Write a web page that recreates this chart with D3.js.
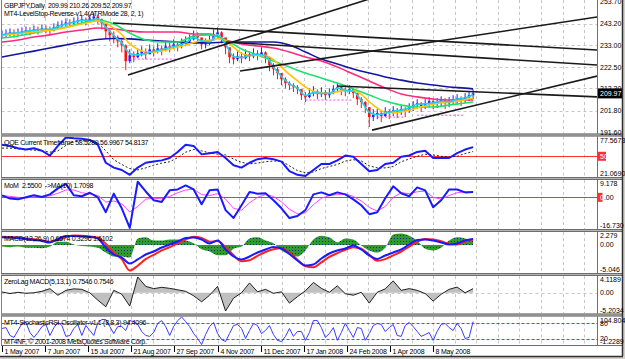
<!DOCTYPE html>
<html>
<head>
<meta charset="utf-8">
<script src="https://cdn.jsdelivr.net/npm/d3@7"></script>
<style>
  html, body { margin: 0; padding: 0; background: #fff; }
  svg { display: block; font-family: "Liberation Sans", Arial, sans-serif; }
  text { white-space: pre; }
</style>
</head>
<body>
<svg id="chart" width="625" height="359"></svg>
<script>
// ---- data (May 2007 - May 2008) ----
const dateLabels = ['1 May 2007', '7 Jun 2007', '15 Jul 2007', '21 Aug 2007', '27 Sep 2007', '4 Nov 2007',
  '11 Dec 2007', '17 Jan 2008', '24 Feb 2008', '1 Apr 2008', '8 May 2008'];
const DAYS_PER_LABEL = 27;
const SAMPLE = 2.5; // trading days per price sample
const STEP = 5;     // trading days per indicator sample

const closes = [238.0, 238.5, 239.0, 238.5, 239.0, 239.5, 239.9, 239.5, 240.4, 239.9,
  240.9, 240.4, 239.9, 241.4, 242.3, 242.8, 243.7, 243.3, 244.2, 244.7,
  245.2, 244.2, 245.6, 246.6, 245.2, 243.3, 239.5, 237.6, 236.6, 234.7,
  232.8, 225.3, 228.1, 227.2, 229.0, 230.0, 228.6, 230.9, 230.0, 231.4,
  230.5, 232.4, 231.9, 233.3, 232.4, 233.8, 234.7, 235.7, 237.6, 236.6,
  233.3, 233.8, 235.2, 238.0, 239.0, 236.6, 231.9, 227.2, 226.2, 227.6,
  226.7, 228.6, 227.6, 229.0, 228.1, 229.5, 227.2, 223.4, 221.5, 219.6,
  216.7, 214.8, 213.9, 212.9, 212.0, 209.1, 208.2, 210.1, 211.0, 209.6,
  210.6, 209.1, 210.1, 212.0, 212.9, 211.5, 211.0, 212.0, 210.1, 207.2,
  205.8, 203.4, 198.7, 199.7, 200.6, 199.2, 201.6, 200.6, 202.0, 201.1,
  202.5, 201.6, 203.4, 204.4, 205.3, 203.9, 205.3, 206.3, 205.3, 205.8,
  206.8, 205.3, 206.3, 207.2, 207.7, 206.8, 208.2, 209.1, 209.97];
const highs = [239.9, 240.4, 240.9, 240.4, 240.9, 241.4, 241.8, 241.4, 242.3, 241.8,
  242.8, 242.3, 241.8, 243.3, 244.2, 244.7, 245.6, 245.2, 246.1, 246.6,
  247.1, 246.1, 247.5, 248.5, 247.5, 245.6, 242.8, 240.4, 239.5, 237.6,
  235.7, 233.3, 230.9, 230.0, 231.4, 232.4, 231.4, 233.3, 232.4, 233.8,
  232.8, 234.7, 234.2, 235.7, 234.7, 236.1, 237.1, 238.0, 239.9, 239.0,
  236.1, 236.1, 237.6, 240.4, 241.4, 239.5, 236.1, 230.9, 229.0, 230.0,
  229.5, 230.9, 230.0, 231.4, 230.5, 231.9, 230.0, 226.7, 224.3, 222.4,
  219.6, 217.6, 215.7, 214.8, 213.9, 211.5, 210.6, 212.4, 213.4, 211.9,
  212.9, 211.5, 212.4, 213.9, 214.8, 213.4, 212.9, 213.9, 212.4, 210.1,
  208.2, 206.3, 203.4, 202.5, 202.5, 201.6, 203.4, 202.5, 203.9, 203.0,
  204.4, 203.4, 205.3, 206.3, 207.2, 205.8, 207.2, 208.2, 207.2, 207.7,
  208.6, 207.7, 208.2, 209.1, 209.6, 208.6, 210.1, 211.0, 211.9];
const lows = [236.1, 236.6, 237.1, 236.6, 237.1, 237.6, 238.0, 237.6, 238.5, 238.0,
  239.0, 238.5, 238.0, 239.5, 240.4, 240.9, 241.8, 241.4, 242.3, 242.8,
  243.3, 242.3, 243.7, 244.7, 242.8, 240.4, 236.1, 234.7, 233.8, 231.9,
  229.5, 221.0, 224.3, 224.8, 226.7, 227.6, 226.2, 228.6, 227.6, 229.0,
  228.1, 230.0, 229.5, 231.0, 230.0, 231.4, 232.4, 233.3, 235.2, 234.2,
  230.9, 231.4, 232.8, 235.7, 236.6, 233.8, 228.6, 224.3, 223.8, 225.3,
  224.3, 226.2, 225.3, 226.7, 225.7, 227.2, 224.3, 220.5, 218.6, 216.7,
  213.9, 212.4, 211.5, 210.6, 209.6, 206.8, 205.8, 207.7, 208.6, 207.2,
  208.2, 206.8, 207.7, 209.6, 210.6, 209.1, 208.6, 209.6, 207.7, 204.4,
  203.0, 200.6, 194.0, 196.8, 197.7, 196.3, 198.7, 197.7, 199.2, 198.2,
  199.7, 198.7, 200.6, 201.6, 202.5, 201.1, 202.5, 203.4, 202.5, 203.0,
  203.9, 202.5, 203.4, 204.4, 204.9, 203.9, 205.3, 206.3, 207.2];

// slow moving averages, one value every 10 trading days (last one at day 295)
const maDays = [0, 10, 20, 30, 40, 50, 60, 70, 80, 90, 100, 110, 120, 130, 140, 150, 160, 170, 180, 190,
  200, 210, 220, 230, 240, 250, 260, 270, 280, 290, 295];
const maNavy = [227.3, 228.7, 230.1, 231.6, 233.0, 234.4, 235.6, 236.1, 235.9, 235.4, 234.9, 234.4, 234.0, 234.0,
  234.4, 234.4, 234.4, 234.4, 233.0, 229.7, 226.3, 224.0, 221.6, 219.7, 217.8, 216.3, 214.9, 214.0, 213.0, 212.5, 212.1];
const maPink = [234.4, 235.4, 236.8, 237.8, 239.2, 240.1, 241.1, 240.6, 239.7, 239.2, 239.2, 239.2, 238.2, 238.2,
  235.4, 233.5, 232.5, 231.6, 229.7, 227.3, 225.4, 222.5, 219.2, 215.9, 212.5, 209.7, 208.3, 207.3, 206.8, 206.8, 206.8];
const maGreen = [236.3, 237.3, 238.7, 240.1, 241.6, 243.5, 244.9, 243.0, 238.7, 235.4, 234.4, 234.4, 237.3, 237.8,
  235.4, 231.1, 228.2, 225.4, 222.5, 219.7, 217.3, 214.9, 212.1, 209.2, 206.3, 204.4, 203.5, 203.5, 204.4, 205.4, 205.9];
// fast moving averages, one value every 5 trading days
const maYellow = [237.5, 238.0, 238.4, 238.8, 239.2, 239.6, 240.0, 240.5, 241.3, 242.2,
  243.0, 243.8, 244.5, 243.5, 241.0, 238.0, 233.5, 231.0, 229.8, 229.6,
  230.2, 231.0, 232.0, 233.0, 234.2, 235.0, 235.2, 236.0, 235.0, 232.0,
  229.0, 228.0, 228.0, 228.0, 226.0, 222.5, 219.0, 216.0, 213.0, 211.0,
  210.3, 210.0, 210.8, 211.3, 211.2, 209.5, 206.0, 203.0, 201.0, 200.7,
  201.2, 202.0, 203.0, 204.0, 204.8, 205.5, 205.8, 206.3, 207.0, 207.8];
const maCyan = [237.8, 238.6, 238.8, 239.5, 240.0, 240.5, 240.5, 241.8, 243.0, 243.8,
  244.7, 244.8, 245.5, 241.5, 237.5, 234.0, 229.0, 228.3, 229.0, 230.0,
  230.8, 231.8, 232.8, 234.0, 236.5, 235.0, 234.5, 238.0, 233.5, 227.5,
  227.0, 228.0, 228.5, 228.0, 222.5, 218.0, 214.5, 212.5, 209.0, 210.2,
  210.0, 210.0, 212.5, 211.5, 211.0, 206.5, 201.0, 199.8, 200.5, 201.5,
  202.0, 203.0, 204.8, 205.0, 205.5, 206.2, 206.0, 207.3, 207.8, 209.3];
// LevelStop-Reverse stop levels (sample index ranges)
const stopFrom = [32, 76, 94, 104];
const stopTo = [44, 88, 101, 116];
const stopLevel = [226.3, 206.8, 198.7, 199.6];
// hand drawn trend lines: anchor (day, price) pairs, drawn as rays to the right
const trendDay1 = [69.5, 78.9, 149.0, 140.3, 209.8, 231.7];
const trendPrice1 = [243.5, 218.7, 220.6, 234.4, 213.5, 192.5];
const trendDay2 = [372.6, 224.2, 372.6, 372.6, 372.6, 372.6];
const trendPrice2 = [230.6, 253.5, 246.3, 223.5, 208.3, 218.2];

// indicators, one value every 5 trading days
const qqeFast = [67.0, 65.2, 61.7, 59.9, 61.7, 58.1, 51.1, 65.2, 77.5, 76.5, 75.8, 74.0, 67.0, 40.5, 33.4, 29.9, 22.8, 33.4, 40.5, 42.2,
  44.0, 47.5, 56.4, 67.0, 65.2, 52.8, 54.6, 56.4, 47.5, 36.9, 33.4, 40.5, 45.8, 47.5, 45.8, 42.2, 28.1, 22.8, 21.1, 29.9,
  38.7, 38.7, 44.0, 51.1, 49.3, 38.7, 28.1, 29.9, 38.7, 40.5, 49.3, 51.1, 56.4, 58.1, 47.5, 47.5, 47.5, 54.6, 59.9, 63.4];
const qqeSlow = [62, 62, 61, 60, 59, 58, 56, 58, 66, 72, 73, 72, 70, 58, 45, 38, 32, 30, 33, 37,
  40, 42, 48, 56, 60, 58, 55, 53, 52, 46, 41, 39, 40, 42, 43, 43, 36, 29, 26, 27,
  32, 35, 38, 43, 45, 43, 36, 33, 33, 35, 42, 46, 50, 53, 52, 50, 49, 50, 54, 57];
const mom = [1.1, -0.7, -1.1, 0.0, 1.1, 0.2, 1.6, 4.9, 7.4, 1.1, 0.6, 2.5, 0.0, -8.1, 2.0, -6.0, -16.7, 8.5, 3.2, -1.6,
  -2.5, 3.8, 4.3, 6.5, 4.3, -3.8, 3.8, 4.3, -7.0, -11.3, -4.3, 2.9, 2.0, 2.2, -1.6, -6.0, -11.3, -10.2, -7.0, 1.6,
  2.7, 1.1, 2.7, 1.6, -1.1, -4.3, -9.2, -8.1, -0.5, 6.0, 2.2, 0.6, 5.4, 3.8, -5.4, -1.6, 4.3, 4.3, 2.7, 2.9];
const momMa = [1.0, 0.5, 0.0, -0.3, 0.2, 0.5, 0.8, 2.2, 4.0, 4.0, 2.5, 1.8, 1.0, -2.5, -2.0, -3.5, -8.0, -5.0, -1.0, -0.5,
  -0.8, 0.5, 2.5, 4.0, 4.5, 1.5, 1.0, 2.0, -1.0, -6.0, -7.0, -3.0, 0.0, 1.5, 0.5, -2.5, -6.5, -9.0, -8.5, -4.0,
  -0.5, 1.0, 1.5, 1.8, 0.5, -2.0, -5.5, -7.5, -5.0, 0.0, 2.5, 2.0, 3.0, 3.5, 0.0, -1.0, 1.0, 2.5, 3.0, 2.9];
const macdMain = [1.42, 1.36, 1.24, 1.09, 0.90, 0.72, 0.45, 1.09, 1.64, 1.64, 1.55, 1.46, 1.18, -0.47, -1.75, -2.30, -3.40, -2.66, -1.75, -1.20,
  -0.47, 0.08, 0.63, 1.27, 1.36, 1.00, 0.27, 0.81, -0.83, -2.12, -2.66, -2.12, -1.38, -0.83, -0.38, -0.65, -1.66, -2.85, -3.76, -3.58,
  -2.48, -1.57, -1.02, -0.65, -0.10, -0.83, -1.93, -2.57, -1.93, -1.38, -0.83, 0.08, 0.90, 1.00, 0.81, 0.45, 0.08, 0.27, 0.81, 1.09];
const macdSignal = [1.50, 1.45, 1.35, 1.20, 1.05, 0.85, 0.60, 0.85, 1.40, 1.75, 1.70, 1.55, 1.35, 0.20, -1.40, -2.60, -4.70, -3.80, -2.60, -1.80,
  -1.00, -0.40, 0.30, 1.00, 1.50, 1.30, 0.60, 0.70, -0.40, -1.90, -3.00, -2.80, -2.00, -1.30, -0.80, -0.60, -1.40, -2.70, -3.90, -4.10,
  -3.20, -2.20, -1.50, -0.90, -0.40, -0.70, -1.80, -2.90, -2.60, -1.90, -1.20, -0.30, 0.60, 1.10, 1.00, 0.70, 0.20, 0.10, 0.60, 1.00];
const macdHist = [-0.3, -0.4, -0.3, -0.5, -0.5, -0.6, -0.3, 0.6, 0.6, 0.1, -0.2, -0.3, -0.5, -1.4, -2.1, -2.1, -2.3, 1.2, 1.4, 0.8,
  0.8, 1.0, 1.0, 0.8, 0.3, -0.8, -1.2, -1.9, -1.9, -0.7, -0.3, 1.2, 1.4, 0.8, 0.3, -1.0, -1.7, -2.1, -1.0, 1.0,
  1.7, 1.4, 0.5, 1.2, 1.0, -0.1, -1.0, -1.4, -0.5, 1.9, 2.1, 1.7, 0.8, -0.7, -1.0, -0.5, 0.8, 1.4, 1.2, 0.8];
const zeroLag = [0.16, -0.24, 0.09, -0.17, -0.04, 0.34, 1.02, -0.67, 0.59, 0.97, 0.84, -0.04, -1.93, -3.61, 0.59, -0.42, -3.44, 4.0, 1.6, 1.02,
  1.35, 1.09, 0.72, 0.34, -0.80, -2.35, -0.67, 1.60, -4.70, -1.42, -0.04, 2.48, 0.21, 0.84, -0.17, 0.21, -2.68, -1.04, 0.47, 2.61,
  1.09, 0.09, 1.73, -0.29, -0.67, 0.09, -2.68, 0.09, 0.97, 2.99, 0.59, 1.02, 0.59, -0.24, -2.17, -0.42, 0.84, 1.42, -0.04, 1.02];
// stochastic RSI, one value every 2.5 trading days
const stochRsi = [60.5, 64, 33.5, 26, 52.7, 80, 84, 45, 26, 45,
  68, 76, 33.5, 64, 84, 72, 30, 33.5, 60.5, 76,
  33.5, 72, 52.7, 33.5, 84, 95, 95, 68, 41, 68,
  68, 52.7, 91, 87, 76, 49, 33.5, 30, 45, 80,
  91, 68, 33.5, 68, 91, 104.8, 87, 68, 41, 22,
  -1.2, 37, 68, 84, 41, 18, 10, 41, 72, 76,
  60.5, 22, 52.7, 80, 72, 41, 52.7, 72, 37, 14.7,
  10, 30, 60.5, 30, 49, 49, 14.7, 45, 91, 91,
  64, 26, 41, 64, 14.7, 45, 80, 52.7, 26, 64,
  60.5, 14.7, 41, 72, 80, 76, 49, 64, 76, 33.5,
  30, 72, 84, 68, 49, 30, 37, 45, 14.7, 49,
  76, 80, 64, 52.7, 80, 60.5, 22, 26, 87];

// axis labels
const mainTicks = ['253.70', '243.20', '233.00', '222.50', '212.30', '201.80', '191.60'];
const qqeTicks = ['77.5673', '50', '21.0690'];
const momTicks = ['9.178', '0.00', '-16.730'];
const macdTicks = ['2.279', '0.00', '-5.046'];
const zlTicks = ['4.1189', '0.00', '-5.2034'];
const stochTicks = ['104.8046', '80', '20', '-1.2289'];
const lastPrice = 209.97;

// ---- layout ----
const svg = d3.select('#chart');
const defs = svg.append('defs');
const RIGHT = 597;
const x = d3.scaleLinear().domain([0, 372.6]).range([2, RIGHT]);

const panels = [
  { id: 'main', top: 0, bottom: 133.5, domain: [191.6, 253.7], range: [132, 1.5] },
  { id: 'qqe', top: 136.5, bottom: 177, domain: [21.069, 77.5673], range: [176, 137.5] },
  { id: 'mom', top: 180, bottom: 229, domain: [-16.73, 9.178], range: [228, 180.5] },
  { id: 'macd', top: 232, bottom: 273, domain: [-5.046, 2.279], range: [272.5, 232.5] },
  { id: 'zl', top: 276, bottom: 313.5, domain: [-5.2034, 4.1189], range: [313, 276.5] },
  { id: 'stoch', top: 316.5, bottom: 345, domain: [-1.2289, 104.8046], range: [344.5, 317] },
];
const P = {};
panels.forEach((p) => {
  p.y = d3.scaleLinear().domain(p.domain).range(p.range);
  defs.append('clipPath').attr('id', `clip-${p.id}`)
    .append('rect').attr('x', 1.5).attr('y', p.top).attr('width', RIGHT - 1.5).attr('height', p.bottom - p.top);
  p.g = svg.append('g').attr('clip-path', `url(#clip-${p.id})`);
  P[p.id] = p;
});

// vertical grid, every half label
const gridDays = d3.range(DAYS_PER_LABEL / 2, 372, DAYS_PER_LABEL / 2);
panels.forEach((p) => {
  p.g.selectAll('line.vgrid').data(gridDays).join('line')
    .attr('x1', (d) => Math.round(x(d)) + 0.5).attr('x2', (d) => Math.round(x(d)) + 0.5)
    .attr('y1', p.top).attr('y2', p.bottom)
    .attr('stroke', '#c6c6c6').attr('stroke-dasharray', '3,3');
});
// horizontal grid in price panel
P.main.g.selectAll('line.hgrid').data(mainTicks.slice(1, -1)).join('line')
  .attr('x1', 1.5).attr('x2', RIGHT)
  .attr('y1', (d) => Math.round(P.main.y(+d)) + 0.5).attr('y2', (d) => Math.round(P.main.y(+d)) + 0.5)
  .attr('stroke', '#c6c6c6').attr('stroke-dasharray', '3,3');

function line(g, values, step, y, color, width, opts = {}) {
  const gen = d3.line().x((v, i) => x((opts.days ? opts.days[i] : i * step))).y((v) => y(v));
  if (opts.curve) gen.curve(opts.curve);
  return g.append('path').attr('d', gen(values)).attr('fill', 'none')
    .attr('stroke', color).attr('stroke-width', width)
    .attr('stroke-dasharray', opts.dash || null)
    .attr('stroke-linejoin', 'round');
}
function hline(g, y, color, dash, width = 1) {
  g.append('line').attr('x1', 1.5).attr('x2', RIGHT)
    .attr('y1', Math.round(y) + 0.5).attr('y2', Math.round(y) + 0.5)
    .attr('stroke', color).attr('stroke-width', width).attr('stroke-dasharray', dash || null);
}

// ---- price panel ----
const ym = P.main.y;
const bars = closes.map((c, i) => ({
  day: i * SAMPLE, open: i ? closes[i - 1] : c, close: c, high: highs[i], low: lows[i],
}));
P.main.g.selectAll('line.wick').data(bars).join('line')
  .attr('x1', (d) => x(d.day)).attr('x2', (d) => x(d.day))
  .attr('y1', (d) => ym(d.high)).attr('y2', (d) => ym(d.low))
  .attr('stroke', (d) => (d.close >= d.open ? '#2020ff' : '#ff1010')).attr('stroke-width', 1);
P.main.g.selectAll('rect.body').data(bars).join('rect')
  .attr('x', (d) => x(d.day) - 1.3).attr('width', 2.6)
  .attr('y', (d) => ym(Math.max(d.open, d.close)))
  .attr('height', (d) => Math.max(1, Math.abs(ym(d.open) - ym(d.close))))
  .attr('fill', (d) => (d.close >= d.open ? '#2020ff' : '#ff1010'));

// level stop dashes
stopLevel.forEach((lv, i) => {
  P.main.g.append('line')
    .attr('x1', x(stopFrom[i] * SAMPLE)).attr('x2', x(stopTo[i] * SAMPLE))
    .attr('y1', ym(lv)).attr('y2', ym(lv))
    .attr('stroke', '#ff40ff').attr('stroke-dasharray', '2,2');
});

line(P.main.g, maNavy, 0, ym, '#1414a0', 1.6, { days: maDays, curve: d3.curveMonotoneX });
line(P.main.g, maPink, 0, ym, '#ff2a7f', 1.6, { days: maDays, curve: d3.curveMonotoneX });
line(P.main.g, maGreen, 0, ym, '#1ee070', 1.6, { days: maDays, curve: d3.curveMonotoneX });
line(P.main.g, maYellow, STEP, ym, '#ffc400', 1.6, { curve: d3.curveMonotoneX });
line(P.main.g, maCyan, STEP, ym, '#20d0f0', 1.6, { curve: d3.curveMonotoneX });

// trend lines (rays)
trendDay1.forEach((d1, i) => {
  const d2 = trendDay2[i];
  const slope = (trendPrice2[i] - trendPrice1[i]) / (d2 - d1);
  const endDay = 372.6;
  P.main.g.append('line')
    .attr('x1', x(d1)).attr('y1', ym(trendPrice1[i]))
    .attr('x2', x(endDay)).attr('y2', ym(trendPrice1[i] + slope * (endDay - d1)))
    .attr('stroke', '#1a1a1a').attr('stroke-width', 1.6);
});

// ---- QQE ----
hline(P.qqe.g, P.qqe.y(50), '#ff3030');
line(P.qqe.g, qqeSlow, STEP, P.qqe.y, '#202020', 1, { dash: '2,2' });
line(P.qqe.g, qqeFast, STEP, P.qqe.y, '#1a1aff', 2);

// ---- MoM ----
hline(P.mom.g, P.mom.y(0), '#ff3030');
line(P.mom.g, momMa, STEP, P.mom.y, '#ff44ff', 1);
line(P.mom.g, mom, STEP, P.mom.y, '#1a1aff', 2);

// ---- MACD ----
const dots = defs.append('pattern').attr('id', 'dots').attr('patternUnits', 'userSpaceOnUse')
  .attr('width', 3).attr('height', 3);
dots.append('rect').attr('width', 3).attr('height', 3).attr('fill', '#2f9a2f');
dots.append('rect').attr('x', 1).attr('y', 1).attr('width', 1).attr('height', 1).attr('fill', '#102a80');
const ymacd = P.macd.y;
P.macd.g.append('path')
  .attr('d', d3.area().x((v, i) => x(i * STEP)).y0(ymacd(0)).y1((v) => ymacd(v)).curve(d3.curveMonotoneX)(macdHist))
  .attr('fill', 'url(#dots)');
line(P.macd.g, macdSignal, STEP, ymacd, '#ff2020', 2, { curve: d3.curveMonotoneX });
line(P.macd.g, macdMain, STEP, ymacd, '#1a1aff', 2, { curve: d3.curveMonotoneX });

// ---- ZeroLag MACD ----
const yzl = P.zl.y;
hline(P.zl.g, yzl(0), '#c6c6c6', '3,3');
P.zl.g.append('path')
  .attr('d', d3.area().x((v, i) => x(i * STEP)).y0(yzl(0)).y1((v) => yzl(v))(zeroLag))
  .attr('fill', '#c0c0c0');
line(P.zl.g, zeroLag, STEP, yzl, '#202020', 1);

// ---- Stochastic RSI ----
hline(P.stoch.g, P.stoch.y(80), '#ff2020', '3,2');
hline(P.stoch.g, P.stoch.y(20), '#ff2020', '3,2');
line(P.stoch.g, stochRsi, SAMPLE, P.stoch.y, '#3a3aff', 1);

// ---- frame, separators ----
const frame = svg.append('g');
frame.append('line').attr('x1', 1.5).attr('x2', 1.5).attr('y1', 0).attr('y2', 345.5).attr('stroke', '#808080');
frame.append('line').attr('x1', RIGHT + 0.5).attr('x2', RIGHT + 0.5).attr('y1', 0).attr('y2', 345.5).attr('stroke', '#707070');
[133.5, 177, 229, 273, 313.5].forEach((yy) => {
  frame.append('rect').attr('x', 1).attr('y', yy).attr('width', 621).attr('height', 3).attr('fill', '#b4b4b4');
  frame.append('line').attr('x1', 1).attr('x2', 622).attr('y1', yy + 0.5).attr('y2', yy + 0.5).attr('stroke', '#6e6e6e');
  frame.append('line').attr('x1', 1).attr('x2', 622).attr('y1', yy + 2.5).attr('y2', yy + 2.5).attr('stroke', '#6e6e6e');
});
frame.append('line').attr('x1', 1).attr('x2', 622).attr('y1', 345.5).attr('y2', 345.5).attr('stroke', '#6e6e6e');
frame.append('rect').attr('x', 622).attr('y', 0).attr('width', 3).attr('height', 359).attr('fill', '#d4d0c8');
frame.append('line').attr('x1', 622.5).attr('x2', 622.5).attr('y1', 0).attr('y2', 357).attr('stroke', '#303030').attr('stroke-width', 1.5);
frame.append('rect').attr('x', 0).attr('y', 356).attr('width', 625).attr('height', 3).attr('fill', '#d4d0c8');
frame.append('line').attr('x1', 0).attr('x2', 623).attr('y1', 356.5).attr('y2', 356.5).attr('stroke', '#303030').attr('stroke-width', 1.5);

// ---- right axis labels ----
const axisG = svg.append('g').attr('font-size', 7).attr('fill', '#000');
function axisLabels(p, labels, centered) {
  labels.forEach((t, i) => {
    const yy = p.y(+t);
    let base = yy + 2.5;
    if (!centered && i === 0) base = yy + 5.5;
    if (!centered && i === labels.length - 1) base = yy - 0.5;
    axisG.append('text').attr('x', 600).attr('y', base).text(t);
  });
}
axisLabels(P.main, mainTicks, true);
axisLabels(P.qqe, qqeTicks, false);
axisLabels(P.mom, momTicks, false);
axisLabels(P.macd, macdTicks, false);
axisLabels(P.zl, zlTicks, false);
[stochTicks[0], stochTicks[3]].forEach((t, i) => {
  const yy = P.stoch.y(+t);
  axisG.append('text').attr('x', 600).attr('y', i ? yy - 1 : yy + 5.5).text(t);
});
[stochTicks[1], stochTicks[2]].forEach((t) => {
  axisG.append('text').attr('x', 600).attr('y', P.stoch.y(+t) + 2.5).text(t);
});
// current price box
const lpY = ym(lastPrice);
axisG.append('rect').attr('x', 598).attr('y', lpY - 5).attr('width', 24).attr('height', 10).attr('fill', '#000');
axisG.append('text').attr('x', 600).attr('y', lpY + 2.5).attr('fill', '#fff').text(lastPrice.toFixed(2));
// red level markers
const qy = P.qqe.y(50);
axisG.append('rect').attr('x', 598).attr('y', qy - 4.5).attr('width', 8).attr('height', 9).attr('fill', '#ff3030');
axisG.selectAll('text').filter(function () { return d3.select(this).text() === '50'; }).raise().attr('fill', '#fff');
const my = P.mom.y(0);
axisG.append('rect').attr('x', 598).attr('y', my - 4.5).attr('width', 4.5).attr('height', 9).attr('fill', '#ff3030');
axisG.selectAll('text').filter(function () { return d3.select(this).text() === '0.00' && Math.abs(+d3.select(this).attr('y') - (my + 2.5)) < 1; })
  .raise().text(null)
  .call((t) => { t.append('tspan').attr('fill', '#fff').text('0'); t.append('tspan').text('.00'); });

// ---- legends ----
const legend = svg.append('g').attr('font-size', 7).attr('letter-spacing', -0.3).attr('fill', '#000');
legend.append('text').attr('x', 4).attr('y', 8).text('GBPJPY,Daily  209.99 210.26 209.52 209.97');
legend.append('text').attr('x', 4).attr('y', 16).text('MT4-LevelStop-Reverse-v1.4(ATRMode 28, 2, 1)');
legend.append('text').attr('x', 4).attr('y', 145).text('QQE Current Timeframe 58.5289 56.9967 54.8137');
legend.append('text').attr('x', 4).attr('y', 188).text('MoM  2.5500  ->MA(10) 1.7098');
legend.append('text').attr('x', 4).attr('y', 240.5).text('MACD(12,26,9) 0.6574 0.3296 1.6102');
legend.append('text').attr('x', 4).attr('y', 284).text('ZeroLag MACD(5,13,1) 0.7546 0.7546');
legend.append('text').attr('x', 4).attr('y', 325).text('MT4-StochasticRSI-Oscillator-v1.1 (8,8,3) 94.4096');
legend.append('text').attr('x', 4).attr('y', 344).text('MT4NF, \u00a9 2001-2008 MetaQuotes Software Corp.');

// ---- date axis ----
const dateG = svg.append('g').attr('font-size', 7).attr('letter-spacing', -0.2).attr('fill', '#000');
dateLabels.forEach((t, i) => {
  const xx = Math.round(x(i * DAYS_PER_LABEL)) + 0.5;
  dateG.append('line').attr('x1', xx).attr('x2', xx).attr('y1', 346).attr('y2', 352).attr('stroke', '#000');
  dateG.append('text').attr('x', xx + 2).attr('y', 354).text(t);
});
</script>
</body>
</html>
